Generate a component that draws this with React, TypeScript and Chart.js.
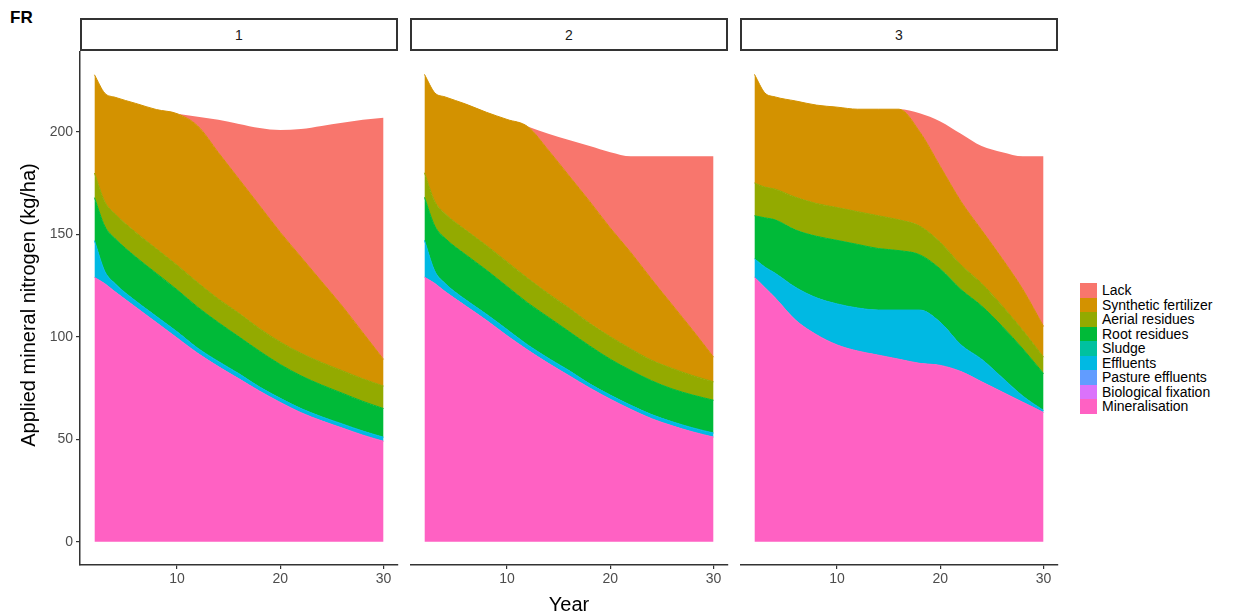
import React, { useEffect, useRef } from "react";
import { Chart, registerables } from "chart.js";

Chart.register(...registerables);

const FONT = '"Liberation Sans", Arial, Helvetica, sans-serif';

const YEARS = [2, 3, 4, 6, 8, 10, 12, 14, 16, 18, 20, 22, 24, 26, 28, 30];
const SERIES = [
  "Lack",
  "Synthetic fertilizer",
  "Aerial residues",
  "Root residues",
  "Sludge",
  "Effluents",
  "Pasture effluents",
  "Biological fixation",
  "Mineralisation",
];
const COLORS = ["#F8766D", "#D39200", "#93AA00", "#00BA38", "#00C19F", "#00B9E3", "#619CFF", "#DB72FB", "#FF61C3"];
const PANELS = ["1", "2", "3"];
const Y_TICKS = [0, 50, 100, 150, 200];
const X_TICKS = [10, 20, 30];

// Panel 1
const P1_MINERALISATION = [129, 126, 122, 114.5, 107, 99.5, 92, 85.5, 79.5, 73.5, 68, 63, 59, 55.5, 52, 49];
const P1_EFFLUENTS = [18, 6, 4, 3, 3, 3, 2.5, 2.5, 2.5, 2, 2, 2, 2, 2, 2, 2];
const P1_ROOT = [21, 22, 22, 21.5, 21, 20.5, 20, 19, 18, 17.5, 16.5, 16, 15.5, 15, 14.5, 14];
const P1_AERIAL = [12, 12, 12, 12, 12, 12, 12, 11.5, 11.5, 11, 11, 11, 11, 11, 11, 11];
const P1_SYNTHETIC = [48, 53, 57, 63, 68, 74, 76.5, 71.5, 65.5, 60, 53.5, 47, 39.5, 31.5, 22.5, 13];
const P1_LACK = [0, 0, 0, 0, 0, 0, 4.5, 16, 27, 38, 50, 62.5, 76, 89.5, 104, 118];

// Panel 2
const P2_MINERALISATION = [129, 126, 122, 115, 108, 100.5, 93.5, 87, 81, 75, 69.5, 64.5, 60, 56.5, 53.5, 51];
const P2_EFFLUENTS = [18, 6, 4, 3, 3, 3, 2.5, 2.5, 2.5, 2, 2, 2, 2, 2, 2, 2];
const P2_ROOT = [21, 22, 22, 22, 21.5, 21, 20.5, 20, 19, 18.5, 17.5, 17, 16.5, 16, 16, 16];
const P2_AERIAL = [12, 12, 12, 12, 12, 12, 12, 11.5, 11.5, 11, 11, 10.5, 10, 10, 9.5, 9];
const P2_SYNTHETIC = [48, 53, 57, 61.5, 65, 69.5, 74, 70, 64.5, 59.5, 53, 47, 39.5, 31, 22, 12];
const P2_LACK = [0, 0, 0, 0, 0, 0, 0, 8, 17.5, 27, 37, 47, 60, 72.5, 85, 98];

// Panel 3
const P3_MINERALISATION = [129, 124, 119, 108, 101, 96, 93, 91, 89, 87, 86, 83, 78, 73, 68, 63];
const P3_EFFLUENTS = [9, 10, 12, 16, 18, 20, 21, 22, 24, 26, 21, 13, 11, 7, 3, 1];
const P3_ROOT = [21, 24, 26, 28, 30, 31, 31, 30, 29, 27, 26, 27, 26, 25, 23, 18];
const P3_AERIAL = [16, 15, 15, 16, 16, 16, 16, 16, 15, 14, 13, 12, 11, 10, 9, 8];
const P3_SYNTHETIC = [53, 46, 45, 47, 48, 49, 50, 52, 54, 46, 37, 31, 26, 23, 20, 15];
const P3_LACK = [0, 0, 0, 0, 0, 0, 0, 0, 0, 9, 22, 33, 41, 52, 65, 83];

// Series that are zero in every panel
const SLUDGE = [0, 0, 0, 0, 0, 0, 0, 0, 0, 0, 0, 0, 0, 0, 0, 0];
const PASTURE_EFFLUENTS = [0, 0, 0, 0, 0, 0, 0, 0, 0, 0, 0, 0, 0, 0, 0, 0];
const BIOLOGICAL_FIXATION = [0, 0, 0, 0, 0, 0, 0, 0, 0, 0, 0, 0, 0, 0, 0, 0];

const PANEL_VALUES: Record<string, number[]>[] = [
  {
    Lack: P1_LACK,
    "Synthetic fertilizer": P1_SYNTHETIC,
    "Aerial residues": P1_AERIAL,
    "Root residues": P1_ROOT,
    Sludge: SLUDGE,
    Effluents: P1_EFFLUENTS,
    "Pasture effluents": PASTURE_EFFLUENTS,
    "Biological fixation": BIOLOGICAL_FIXATION,
    Mineralisation: P1_MINERALISATION,
  },
  {
    Lack: P2_LACK,
    "Synthetic fertilizer": P2_SYNTHETIC,
    "Aerial residues": P2_AERIAL,
    "Root residues": P2_ROOT,
    Sludge: SLUDGE,
    Effluents: P2_EFFLUENTS,
    "Pasture effluents": PASTURE_EFFLUENTS,
    "Biological fixation": BIOLOGICAL_FIXATION,
    Mineralisation: P2_MINERALISATION,
  },
  {
    Lack: P3_LACK,
    "Synthetic fertilizer": P3_SYNTHETIC,
    "Aerial residues": P3_AERIAL,
    "Root residues": P3_ROOT,
    Sludge: SLUDGE,
    Effluents: P3_EFFLUENTS,
    "Pasture effluents": PASTURE_EFFLUENTS,
    "Biological fixation": BIOLOGICAL_FIXATION,
    Mineralisation: P3_MINERALISATION,
  },
];

const AXIS_COLOR = "#333333";
const TICK_TEXT = "#4D4D4D";

function Panel(props: { index: number; left: number; width: number; showY: boolean }) {
  const ref = useRef<HTMLCanvasElement | null>(null);
  const { index, left, width, showY } = props;

  useEffect(() => {
    if (!ref.current) return;
    const values = PANEL_VALUES[index];
    const bottomUp = [...SERIES].reverse();
    const datasets = bottomUp.map((name, i) => {
      const arr = values[name];
      const color = COLORS[SERIES.indexOf(name)];
      const nonzero = arr.some((v) => v !== 0);
      return {
        label: name,
        data: YEARS.map((x, j) => ({ x, y: arr[j] })),
        backgroundColor: color,
        borderColor: color,
        borderWidth: nonzero && name !== "Lack" ? 1 : 0,
        pointRadius: 0,
        pointHoverRadius: 0,
        cubicInterpolationMode: "monotone",
        fill: i === 0 ? "origin" : "-1",
      };
    });

    const yScale: any = {
      stacked: true,
      min: -11.4,
      max: 239.4,
      display: showY,
      afterBuildTicks: (s: any) => {
        s.ticks = Y_TICKS.map((v) => ({ value: v }));
      },
      ticks: {
        font: { family: FONT, size: 14 },
        color: TICK_TEXT,
        padding: 3,
        autoSkip: false,
      },
      grid: { drawOnChartArea: false, drawTicks: true, tickLength: 4, color: AXIS_COLOR, lineWidth: 1.2 },
      border: { display: true, color: AXIS_COLOR, width: 1.5 },
    };
    if (showY) {
      yScale.afterFit = (s: any) => {
        s.width = 80;
      };
    }

    const chart = new Chart(ref.current, {
      type: "line",
      data: { datasets: datasets as any },
      options: {
        animation: false,
        responsive: false,
        maintainAspectRatio: false,
        events: [],
        layout: { padding: { top: 11, right: 2, left: 0, bottom: 0 } },
        plugins: { legend: { display: false }, tooltip: { enabled: false } },
        scales: {
          x: {
            type: "linear",
            min: 0.6,
            max: 31.4,
            afterBuildTicks: (s: any) => {
              s.ticks = X_TICKS.map((v) => ({ value: v }));
            },
            afterFit: (s: any) => {
              s.height = 35;
            },
            ticks: {
              font: { family: FONT, size: 14 },
              color: TICK_TEXT,
              padding: 2,
              maxRotation: 0,
              autoSkip: false,
            },
            grid: { drawOnChartArea: false, drawTicks: true, tickLength: 4, color: AXIS_COLOR, lineWidth: 1.2 },
            border: { display: true, color: AXIS_COLOR, width: 1.5 },
          } as any,
          y: yScale,
        },
      },
    });
    return () => chart.destroy();
  }, [index, showY]);

  return (
    <canvas
      ref={ref}
      width={width}
      height={560}
      style={{ position: "absolute", left, top: 40, width, height: 560 }}
    />
  );
}

export default function App() {
  const strips = [80, 410, 740];
  return (
    <div
      style={{
        position: "absolute",
        left: 0,
        top: 0,
        width: 1250,
        height: 616,
        background: "#ffffff",
        fontFamily: FONT,
        overflow: "hidden",
      }}
    >
      <div style={{ position: "absolute", left: 10, top: 8, fontSize: 17, fontWeight: "bold", color: "#000" }}>FR</div>

      {PANELS.map((p, i) => (
        <div
          key={p}
          style={{
            position: "absolute",
            left: strips[i],
            top: 18,
            width: 318,
            height: 33,
            boxSizing: "border-box",
            border: "2px solid #333",
            background: "#fff",
            display: "flex",
            alignItems: "center",
            justifyContent: "center",
            fontSize: 14,
            color: "#1A1A1A",
          }}
        >
          {p}
        </div>
      ))}

      <Panel index={0} left={0} width={400} showY={true} />
      <Panel index={1} left={410} width={320} showY={false} />
      <Panel index={2} left={740} width={320} showY={false} />

      <div
        style={{
          position: "absolute",
          left: 28 - 200,
          top: 305 - 12,
          width: 400,
          height: 24,
          lineHeight: "24px",
          textAlign: "center",
          fontSize: 20,
          color: "#000",
          transform: "rotate(-90deg)",
          whiteSpace: "nowrap",
        }}
      >
        Applied mineral nitrogen (kg/ha)
      </div>
      <div
        style={{
          position: "absolute",
          left: 569 - 100,
          top: 592,
          width: 200,
          textAlign: "center",
          fontSize: 20,
          lineHeight: "24px",
          color: "#000",
        }}
      >
        Year
      </div>

      {SERIES.map((name, i) => (
        <React.Fragment key={name}>
          <div
            style={{
              position: "absolute",
              left: 1080,
              top: 283 + i * 14.5,
              width: 17,
              height: 14.5,
              background: COLORS[i],
            }}
          />
          <div
            style={{
              position: "absolute",
              left: 1102,
              top: 283 + i * 14.5,
              height: 14.5,
              lineHeight: "14.5px",
              fontSize: 14,
              color: "#000",
              whiteSpace: "nowrap",
            }}
          >
            {name}
          </div>
        </React.Fragment>
      ))}
    </div>
  );
}
